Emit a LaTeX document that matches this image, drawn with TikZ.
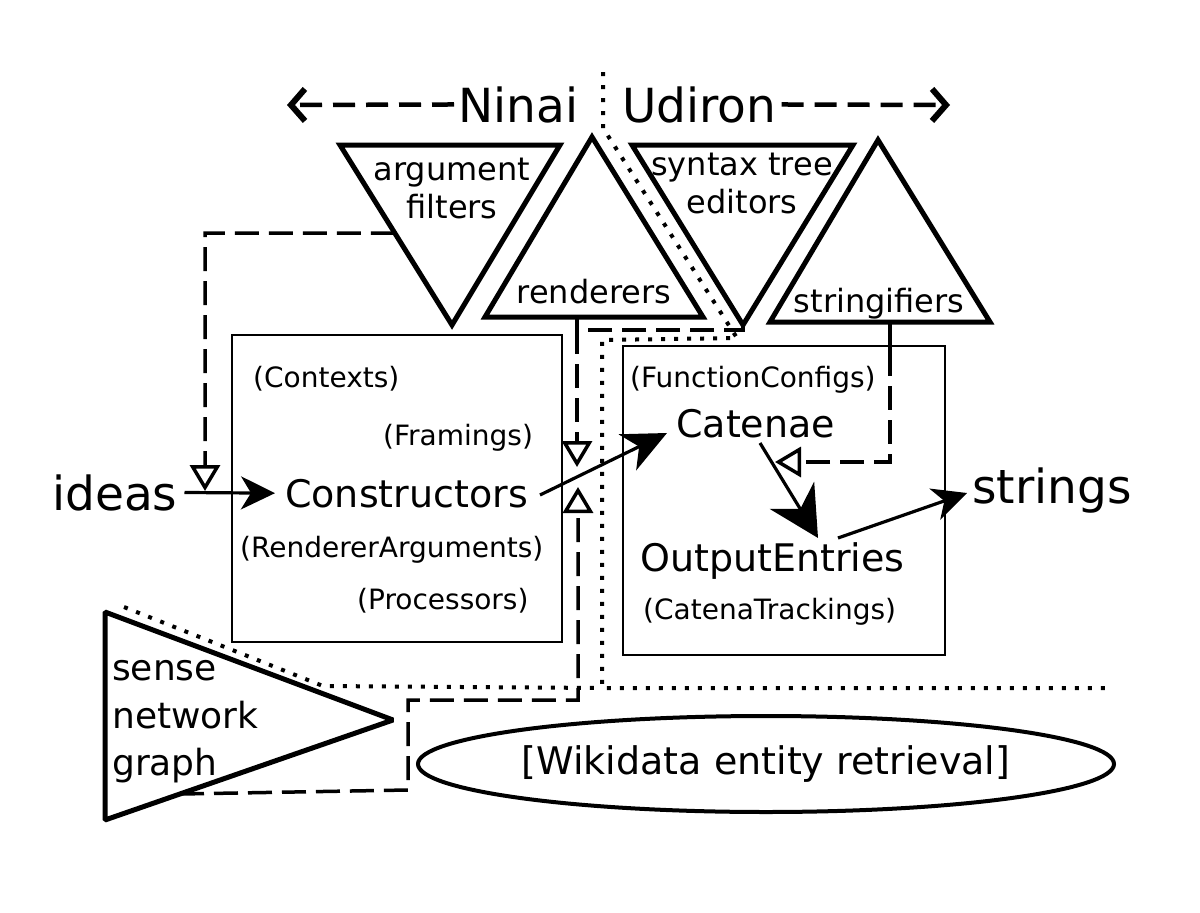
\documentclass[tikz,border=0pt]{standalone}
\usepackage{fontspec}
\setmainfont{DejaVu Sans}
\usetikzlibrary{arrows.meta,calc,shapes.geometric}
\begin{document}
\begin{tikzpicture}[x=1pt,y=-1pt,
  tri/.style={line width=5pt, line join=miter},
  boxnode/.style={draw, line width=2.5pt, inner sep=0pt},
  conn/.style={line width=3.2pt},
  dconn/.style={line width=3.5pt, dash pattern=on 24pt off 10pt},
  dotline/.style={line width=4pt, dash pattern=on 4pt off 9pt},
  hdr/.style={line width=4.5pt, dash pattern=on 22pt off 11pt, -{Straight Barb[length=14pt,width=32pt,line width=6pt]}},
  bigf/.style={font=\fontsize{47}{56}\selectfont},
  midf/.style={font=\fontsize{38}{46}\selectfont},
  trif/.style={font=\fontsize{32}{38}\selectfont},
  smallf/.style={font=\fontsize{28}{34}\selectfont},
  sensef/.style={font=\fontsize{36}{44}\selectfont},
  lbl/.style={inner sep=0pt, anchor=base west},
  clbl/.style={inner sep=0pt, anchor=base},
  filled/.style={-{Stealth[length=44pt,width=40pt,inset=13pt]}},
  filledL/.style={-{Stealth[length=50pt,width=52pt,inset=16pt]}},
  filledS/.style={-{Stealth[length=34pt,width=33pt,inset=10pt]}},
  openarr/.style={-{Triangle[open,length=26pt,width=30pt,line width=3.5pt]}},
]
\useasboundingbox (0,0) rectangle (1200,913);

% ---------- header ----------
\node[lbl, bigf] (ninai) at (458,122) {Ninai};
\node[lbl, bigf] (udiron) at (622,122) {Udiron};
\coordinate (hleft) at (287,105);
\coordinate (hright) at (950,105);
\draw[hdr] ([xshift=-4pt]ninai.west) -- (hleft);
\draw[hdr] ([xshift=5pt]udiron.east) -- (hright);

% ---------- triangles ----------
\coordinate (af1) at (340,145); \coordinate (af2) at (560,145); \coordinate (af3) at (452,325);
\coordinate (rd1) at (485,317); \coordinate (rd2) at (703,317); \coordinate (rd3) at (592,137);
\coordinate (se1) at (632,145); \coordinate (se2) at (853,145); \coordinate (se3) at (743,325);
\coordinate (sf1) at (770,322); \coordinate (sf2) at (990,322); \coordinate (sf3) at (878,140);
\coordinate (sn1) at (105,612); \coordinate (sn2) at (105,820); \coordinate (sn3) at (393,720);
\draw[tri] (af1) -- (af2) -- (af3) -- cycle;
\draw[tri] (rd1) -- (rd2) -- (rd3) -- cycle;
\draw[tri] (se1) -- (se2) -- (se3) -- cycle;
\draw[tri] (sf1) -- (sf2) -- (sf3) -- cycle;
\draw[tri, line join=bevel] (sn1) -- (sn3) -- (sn2) -- cycle;

\node[clbl, trif] (argument) at (452,180) {argument};
\node[clbl, trif] (filters) at (452,218) {filters};
\node[clbl, trif] (renderers) at (594,303) {renderers};
\node[clbl, trif] (syntaxtree) at (742,175) {syntax tree};
\node[clbl, trif] (editors) at (742,213) {editors};
\node[clbl, trif] (stringifiers) at (879,312) {stringifiers};
\node[lbl, sensef] (sense) at (112,680) {sense};
\node[lbl, sensef] (network) at (112,728) {network};
\node[lbl, sensef] (graph) at (112,775) {graph};

% ---------- boxes ----------
\node[boxnode, minimum width=330pt, minimum height=307pt] (lbox) at (397,488.5) {};
\node[boxnode, minimum width=322pt, minimum height=309pt] (rbox) at (784,500.5) {};

\node[lbl, smallf] (contexts) at (253,387) {(Contexts)};
\node[lbl, smallf] (framings) at (383,445) {(Framings)};
\node[lbl, midf] (constructors) at (285,507) {Constructors};
\node[lbl, smallf] (rendargs) at (240,557) {(RendererArguments)};
\node[lbl, smallf] (processors) at (357,609) {(Processors)};

\node[lbl, smallf] (funcconfigs) at (630,387) {(FunctionConfigs)};
\node[lbl, midf] (catenae) at (676,437) {Catenae};
\node[lbl, midf] (outputentries) at (640,571) {OutputEntries};
\node[lbl, smallf] (catenatrackings) at (643,619) {(CatenaTrackings)};

\node[lbl, bigf] (ideas) at (52,510) {ideas};
\node[lbl, bigf] (strings) at (972,503) {strings};

\node[ellipse, draw, line width=4pt, inner sep=0pt, minimum width=696pt, minimum height=96pt, midf] (wiki) at (766,764) {[Wikidata entity retrieval]};

% ---------- solid arrows ----------
\coordinate (cc1) at (540,495); \coordinate (cc2) at (667,433);
\coordinate (co1) at (760,443); \coordinate (co2) at (818,538);
\coordinate (os1) at (838,538); \coordinate (os2) at (967,493);
\draw[conn, filledS] ([xshift=7pt]ideas.east) -- ([xshift=-10pt]constructors.west);
\draw[conn, filled] (cc1) -- (cc2);
\draw[conn, filledL] (co1) -- (co2);
\draw[conn, filledS] (os1) -- (os2);

% ---------- dashed connectors ----------
\coordinate (afout) at ($(af1)!0.489!(af3)$);
\coordinate (afcorner) at (205,233);
\coordinate (aftip) at (205,491);
\draw[dconn, openarr] (afout) -- (afcorner) -- (aftip);

\coordinate (rdfoot) at (577,317);
\coordinate (rdjoin) at (577,330);
\coordinate (downtip) at (577,467);
\draw[conn] (rdfoot) -- (rdjoin);
\draw[dconn] (se3) |- (rdjoin);
\draw[dconn, openarr] (rdjoin) -- (downtip);

\coordinate (sffoot) at (890,322);
\coordinate (sfjoin) at (890,352);
\coordinate (sfcorner) at (890,462);
\coordinate (sftip) at (775,462);
\draw[conn] (sffoot) -- (sfjoin);
\draw[dconn, openarr] (sfjoin) -- (sfcorner) -- (sftip);

\coordinate (snout) at (180,794);
\coordinate (sn4) at (408,790);
\coordinate (sn5) at (408,700);
\coordinate (sn6) at (578,700);
\coordinate (uptip) at (578,487);
\draw[dconn, openarr] (snout) -- (sn4) -- (sn5) -- (sn6) -- (uptip);

% ---------- dotted separators ----------
\draw[dotline] (603,72) -- (603,128) -- (737,338) -- (602,340) -- (602,688) -- (1110,688);
\draw[dotline] (124,607) -- (323,686) -- (602,688);
\end{tikzpicture}
\end{document}
